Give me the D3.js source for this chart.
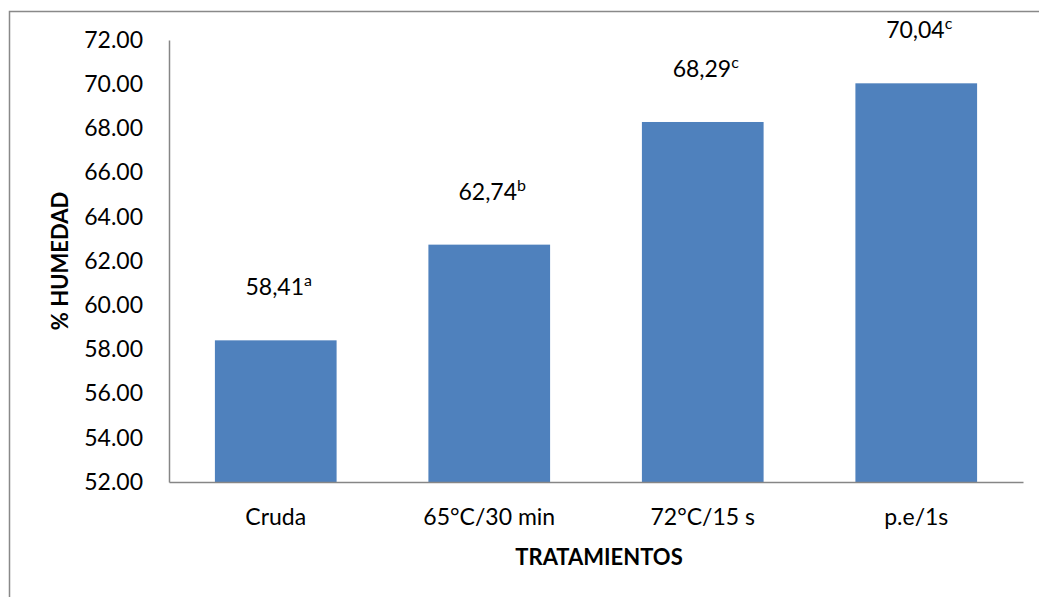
<!DOCTYPE html>
<html><head><meta charset="utf-8">
<script src="https://cdn.jsdelivr.net/npm/d3@7"></script>
<style>body{margin:0;background:#fff}svg{display:block}text{font-family:Lato,"Open Sans",sans-serif;fill:#000}</style>
</head><body>
<script>
const categories = ["Cruda", "65°C/30 min", "72°C/15 s", "p.e/1s"];
const values = [58.41, 62.74, 68.29, 70.04];
const valueLabels = ["58,41", "62,74", "68,29", "70,04"];
const letters = ["a", "b", "c", "c"];
const yTicks = [52, 54, 56, 58, 60, 62, 64, 66, 68, 70, 72];
const yTitle = "% HUMEDAD";
const xTitle = "TRATAMIENTOS";

const W = 1039, H = 597;
const m = {left: 169, right: 1023, top: 40, bottom: 482};
const svg = d3.select("body").append("svg").attr("width", W).attr("height", H);

svg.append("rect").attr("x", 9.5).attr("y", 11.5).attr("width", 1060).attr("height", 620)
  .attr("fill", "none").attr("stroke", "#898989").attr("stroke-width", 1.5);

const x = d3.scaleBand().domain(categories).range([m.left, m.right]).paddingInner(0.43).paddingOuter(0.215);
const y = d3.scaleLinear().domain([52, 72]).range([m.bottom, m.top]);

svg.selectAll("rect.bar").data(values).join("rect").attr("class", "bar")
  .attr("x", (d, i) => x(categories[i])).attr("width", x.bandwidth())
  .attr("y", d => y(d)).attr("height", d => y(52) - y(d)).attr("fill", "#4F81BD");

const yAxis = svg.append("g").attr("transform", `translate(${m.left},0)`)
  .call(d3.axisLeft(y).tickValues(yTicks).tickFormat(d3.format(".2f")).tickSize(0).tickPadding(26));
yAxis.select(".domain").attr("stroke", "#868686").attr("stroke-width", 1.5);
yAxis.selectAll("text").attr("font-size", 23).attr("font-family", "Lato").attr("fill", "#000");

const xAxis = svg.append("g").attr("transform", `translate(0,${m.bottom})`)
  .call(d3.axisBottom(x).tickSize(0).tickPadding(27));
xAxis.select(".domain").attr("stroke", "#868686").attr("stroke-width", 1.5);
xAxis.selectAll("text").attr("font-size", 23).attr("font-family", "Lato").attr("fill", "#000");

const lbl = svg.selectAll("text.vl").data(values).join("text").attr("class", "vl")
  .attr("x", (d, i) => x(categories[i]) + x.bandwidth() / 2 + 3)
  .attr("y", d => y(d) - 45).attr("text-anchor", "middle").attr("font-size", 23);
lbl.append("tspan").text((d, i) => valueLabels[i]);
lbl.append("tspan").attr("font-size", 16).attr("dy", -9).text((d, i) => letters[i]);

svg.append("text").attr("transform", `translate(68,${(m.top + m.bottom) / 2}) rotate(-90)`)
  .attr("text-anchor", "middle").attr("font-weight", "bold").attr("font-size", 22).text(yTitle);
svg.append("text").attr("x", 599).attr("y", 565).attr("text-anchor", "middle")
  .attr("font-weight", "bold").attr("font-size", 22).text(xTitle);
</script>
</body></html>
